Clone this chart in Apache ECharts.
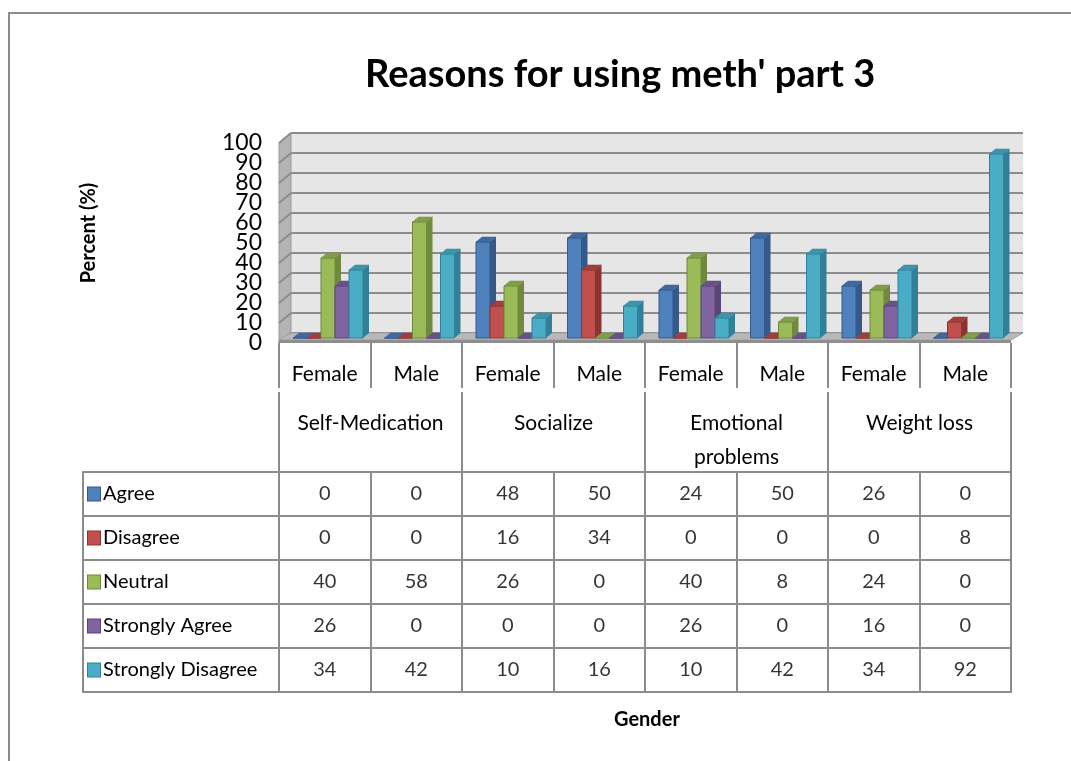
<!DOCTYPE html>
<html>
<head>
<meta charset="utf-8">
<title>Reasons for using meth' part 3</title>
<style>
  html, body { margin: 0; padding: 0; background: #fff; }
  #main { width: 1071px; height: 761px; }
</style>
</head>
<body>
<div id="main"></div>
<script src="https://cdn.jsdelivr.net/npm/echarts@6/dist/echarts.min.js"></script>
<script>
// categories
var genders = ['Female', 'Male', 'Female', 'Male', 'Female', 'Male', 'Female', 'Male'];
var groups = ['Self-Medication', 'Socialize', 'Emotional\nproblems', 'Weight loss'];
var yTicks = [0, 10, 20, 30, 40, 50, 60, 70, 80, 90, 100];

// series values, one per gender column
var agree = [0, 0, 48, 50, 24, 50, 26, 0];
var disagree = [0, 0, 16, 34, 0, 0, 0, 8];
var neutral = [40, 58, 26, 0, 40, 8, 24, 0];
var stronglyAgree = [26, 0, 0, 0, 26, 0, 16, 0];
var stronglyDisagree = [34, 42, 10, 16, 10, 42, 34, 92];

var seriesNames = ['Agree', 'Disagree', 'Neutral', 'Strongly Agree', 'Strongly Disagree'];
var seriesValues = [agree, disagree, neutral, stronglyAgree, stronglyDisagree];

var colors = ['#4f81bd', '#c0504d', '#9bbb59', '#8064a2', '#4bacc6'];
var sideColors = ['#34598a', '#8b3533', '#6f8a3c', '#5a4579', '#31809a'];
var topColors = ['#3e6aa1', '#a23f3c', '#819e48', '#6a5188', '#3c95ad'];
var gridColor = '#8c8c8c';

// 3D depth of the plot box (back wall -> front plane)
var DX = 12, DY = 10;

function wallRenderer(params, api) {
    var band = api.size([1, 0])[0];
    var xl = api.coord([0, 0])[0] - band / 2;
    var xr = api.coord([genders.length - 1, 0])[0] + band / 2;
    var y0 = api.coord([0, 0])[1];
    var yTop = api.coord([0, yTicks[yTicks.length - 1]])[1];
    var children = [];
    children.push({
        type: 'polygon',
        shape: { points: [[xl, yTop], [xl, y0], [xl - DX, y0 + DY], [xl - DX, yTop + DY]] },
        style: { fill: '#b4b4b4', stroke: '#9a9a9a', lineWidth: 1 }
    });
    yTicks.forEach(function (t) {
        var y = api.coord([0, t])[1];
        children.push({
            type: 'line',
            shape: { x1: xl, y1: y, x2: xl - DX, y2: y + DY },
            style: { stroke: gridColor, lineWidth: 2 }
        });
    });
    children.push({
        type: 'polygon',
        shape: { points: [[xl, y0], [xr, y0], [xr - DX, y0 + DY - 3], [xl - DX, y0 + DY - 3]] },
        style: { fill: '#b8b8b8', stroke: '#a0a0a0', lineWidth: 1 }
    });
    children.push({
        type: 'rect',
        shape: { x: xl - DX, y: y0 + DY - 3, width: xr - xl, height: 3 },
        style: { fill: '#8e8e8e' }
    });
    return { type: 'group', children: children };
}

function barRenderer(s) {
    return function (params, api) {
        var cat = api.value(0);
        var base = api.coord([cat, 0]);
        var tip = api.coord([cat, api.value(1)]);
        var band = api.size([1, 0])[0];
        var w = band * 0.153;
        var x = base[0] - band / 2 + band * 0.022 + s * w;
        var yb = base[1] + 5;
        var yt = tip[1] + 5;
        var d = 6, e = 5;
        return {
            type: 'group',
            children: [{
                type: 'polygon',
                shape: { points: [[x + w, yt], [x + w + d, yt - e], [x + w + d, yb - e], [x + w, yb]] },
                style: { fill: sideColors[s] }
            }, {
                type: 'rect',
                shape: { x: x, y: yt, width: w, height: yb - yt },
                style: { fill: colors[s], stroke: sideColors[s], lineWidth: 1 }
            }, {
                type: 'polygon',
                shape: { points: [[x, yt], [x + w, yt], [x + w + d, yt - e], [x + d, yt - e]] },
                style: { fill: topColors[s], stroke: sideColors[s], lineWidth: 0.5 }
            }]
        };
    };
}

var series = [{
    type: 'custom',
    xAxisIndex: 0,
    yAxisIndex: 0,
    silent: true,
    z: 1,
    renderItem: wallRenderer,
    data: [[0, 0]]
}];

seriesValues.forEach(function (vals, s) {
    series.push({
        type: 'custom',
        name: seriesNames[s],
        xAxisIndex: 0,
        yAxisIndex: 0,
        z: 3,
        renderItem: barRenderer(s),
        encode: { x: 0, y: 1 },
        data: vals.map(function (v, i) { return [i, v]; })
    });
});

// table cells
var cells = [];
seriesValues.forEach(function (vals, r) {
    vals.forEach(function (v, c) { cells.push([c, r, v]); });
});
series.push({
    type: 'scatter',
    xAxisIndex: 1,
    yAxisIndex: 1,
    symbolSize: 1,
    itemStyle: { color: 'transparent' },
    label: {
        show: true,
        position: 'inside',
        fontSize: 20,
        color: '#000',
        formatter: function (p) { return p.value[2]; }
    },
    data: cells
});

var rich = { t: { fontSize: 20, color: '#000', padding: [0, 0, 0, 3] } };
colors.forEach(function (c, i) {
    rich['b' + i] = { width: 12, height: 13, backgroundColor: c, borderColor: sideColors[i], borderWidth: 1 };
});

var myChart = echarts.init(document.getElementById('main'));
var option = {
    animation: false,
    textStyle: { fontFamily: 'Lato' },
    title: [{
        text: "Reasons for using meth' part 3",
        left: 360,
        top: 51,
        textStyle: { fontSize: 38, fontWeight: 'bold', color: '#000', fontFamily: 'Lato' }
    }, {
        text: 'Gender',
        left: 609,
        top: 705,
        textStyle: { fontSize: 20, fontWeight: 'bold', color: '#000', fontFamily: 'Lato' }
    }],
    graphic: [{
        type: 'rect',
        shape: { x: 9, y: 13, width: 1200, height: 900 },
        style: { fill: 'none', stroke: gridColor, lineWidth: 2 },
        silent: true
    }],
    grid: [{
        left: 291, top: 133, width: 732, height: 200,
        show: true, backgroundColor: '#e6e6e6', borderWidth: 0
    }, {
        left: 279, top: 472, width: 732, height: 220,
        show: true, borderColor: gridColor, borderWidth: 2
    }, {
        // front plane of the 3D box, carries the tick labels
        left: 279, top: 143, width: 732, height: 200,
        show: false
    }],
    xAxis: [{
        gridIndex: 0,
        type: 'category',
        data: genders,
        show: false
    }, {
        gridIndex: 1,
        type: 'category',
        data: genders,
        position: 'top',
        offset: 84,
        axisLine: { show: false },
        axisTick: { show: true, length: 45, interval: 0, lineStyle: { color: gridColor, width: 2 } },
        axisLabel: { interval: 0, fontSize: 21, color: '#000', margin: 3 },
        splitLine: { show: true, interval: 0, lineStyle: { color: gridColor, width: 2 } }
    }, {
        gridIndex: 1,
        type: 'category',
        data: groups,
        position: 'top',
        offset: 0,
        axisLine: { show: false },
        axisTick: { show: true, length: 80, interval: 0, lineStyle: { color: gridColor, width: 2 } },
        axisLabel: { interval: 0, fontSize: 21, color: '#000', margin: 66, verticalAlign: 'top', lineHeight: 34 },
        splitLine: { show: false }
    }, {
        gridIndex: 2,
        type: 'category',
        data: genders,
        show: false
    }],
    yAxis: [{
        gridIndex: 0,
        type: 'value',
        min: 0,
        max: 100,
        interval: 10,
        name: 'Percent (%)',
        nameLocation: 'middle',
        nameRotate: 90,
        nameGap: 192,
        nameTextStyle: { fontSize: 20, fontWeight: 'bold', color: '#000' },
        axisLine: { show: false },
        axisTick: { show: false },
        axisLabel: { show: false },
        splitLine: { show: true, lineStyle: { color: gridColor, width: 2 } }
    }, {
        gridIndex: 1,
        type: 'category',
        data: seriesNames,
        inverse: true,
        axisLine: { show: true, lineStyle: { color: gridColor, width: 2 } },
        axisTick: { show: true, length: 196, interval: 0, lineStyle: { color: gridColor, width: 2 } },
        axisLabel: {
            interval: 0,
            align: 'left',
            margin: 191,
            formatter: function (v, i) { return '{b' + i + '|}{t|' + v + '}'; },
            rich: rich
        },
        splitLine: { show: true, interval: 0, lineStyle: { color: gridColor, width: 2 } }
    }, {
        gridIndex: 1,
        type: 'category',
        data: seriesNames,
        inverse: true,
        position: 'left',
        offset: 196,
        axisLine: { show: true, lineStyle: { color: gridColor, width: 2 } },
        axisTick: { show: false },
        axisLabel: { show: false }
    }, {
        // tick labels on the front plane
        gridIndex: 2,
        type: 'category',
        data: yTicks.map(String),
        boundaryGap: false,
        axisLine: { show: false },
        axisTick: { show: false },
        splitLine: { show: false },
        axisLabel: { interval: 0, fontSize: 23, color: '#000', margin: 17 }
    }],
    series: series
};
myChart.setOption(option);
</script>
</body>
</html>
